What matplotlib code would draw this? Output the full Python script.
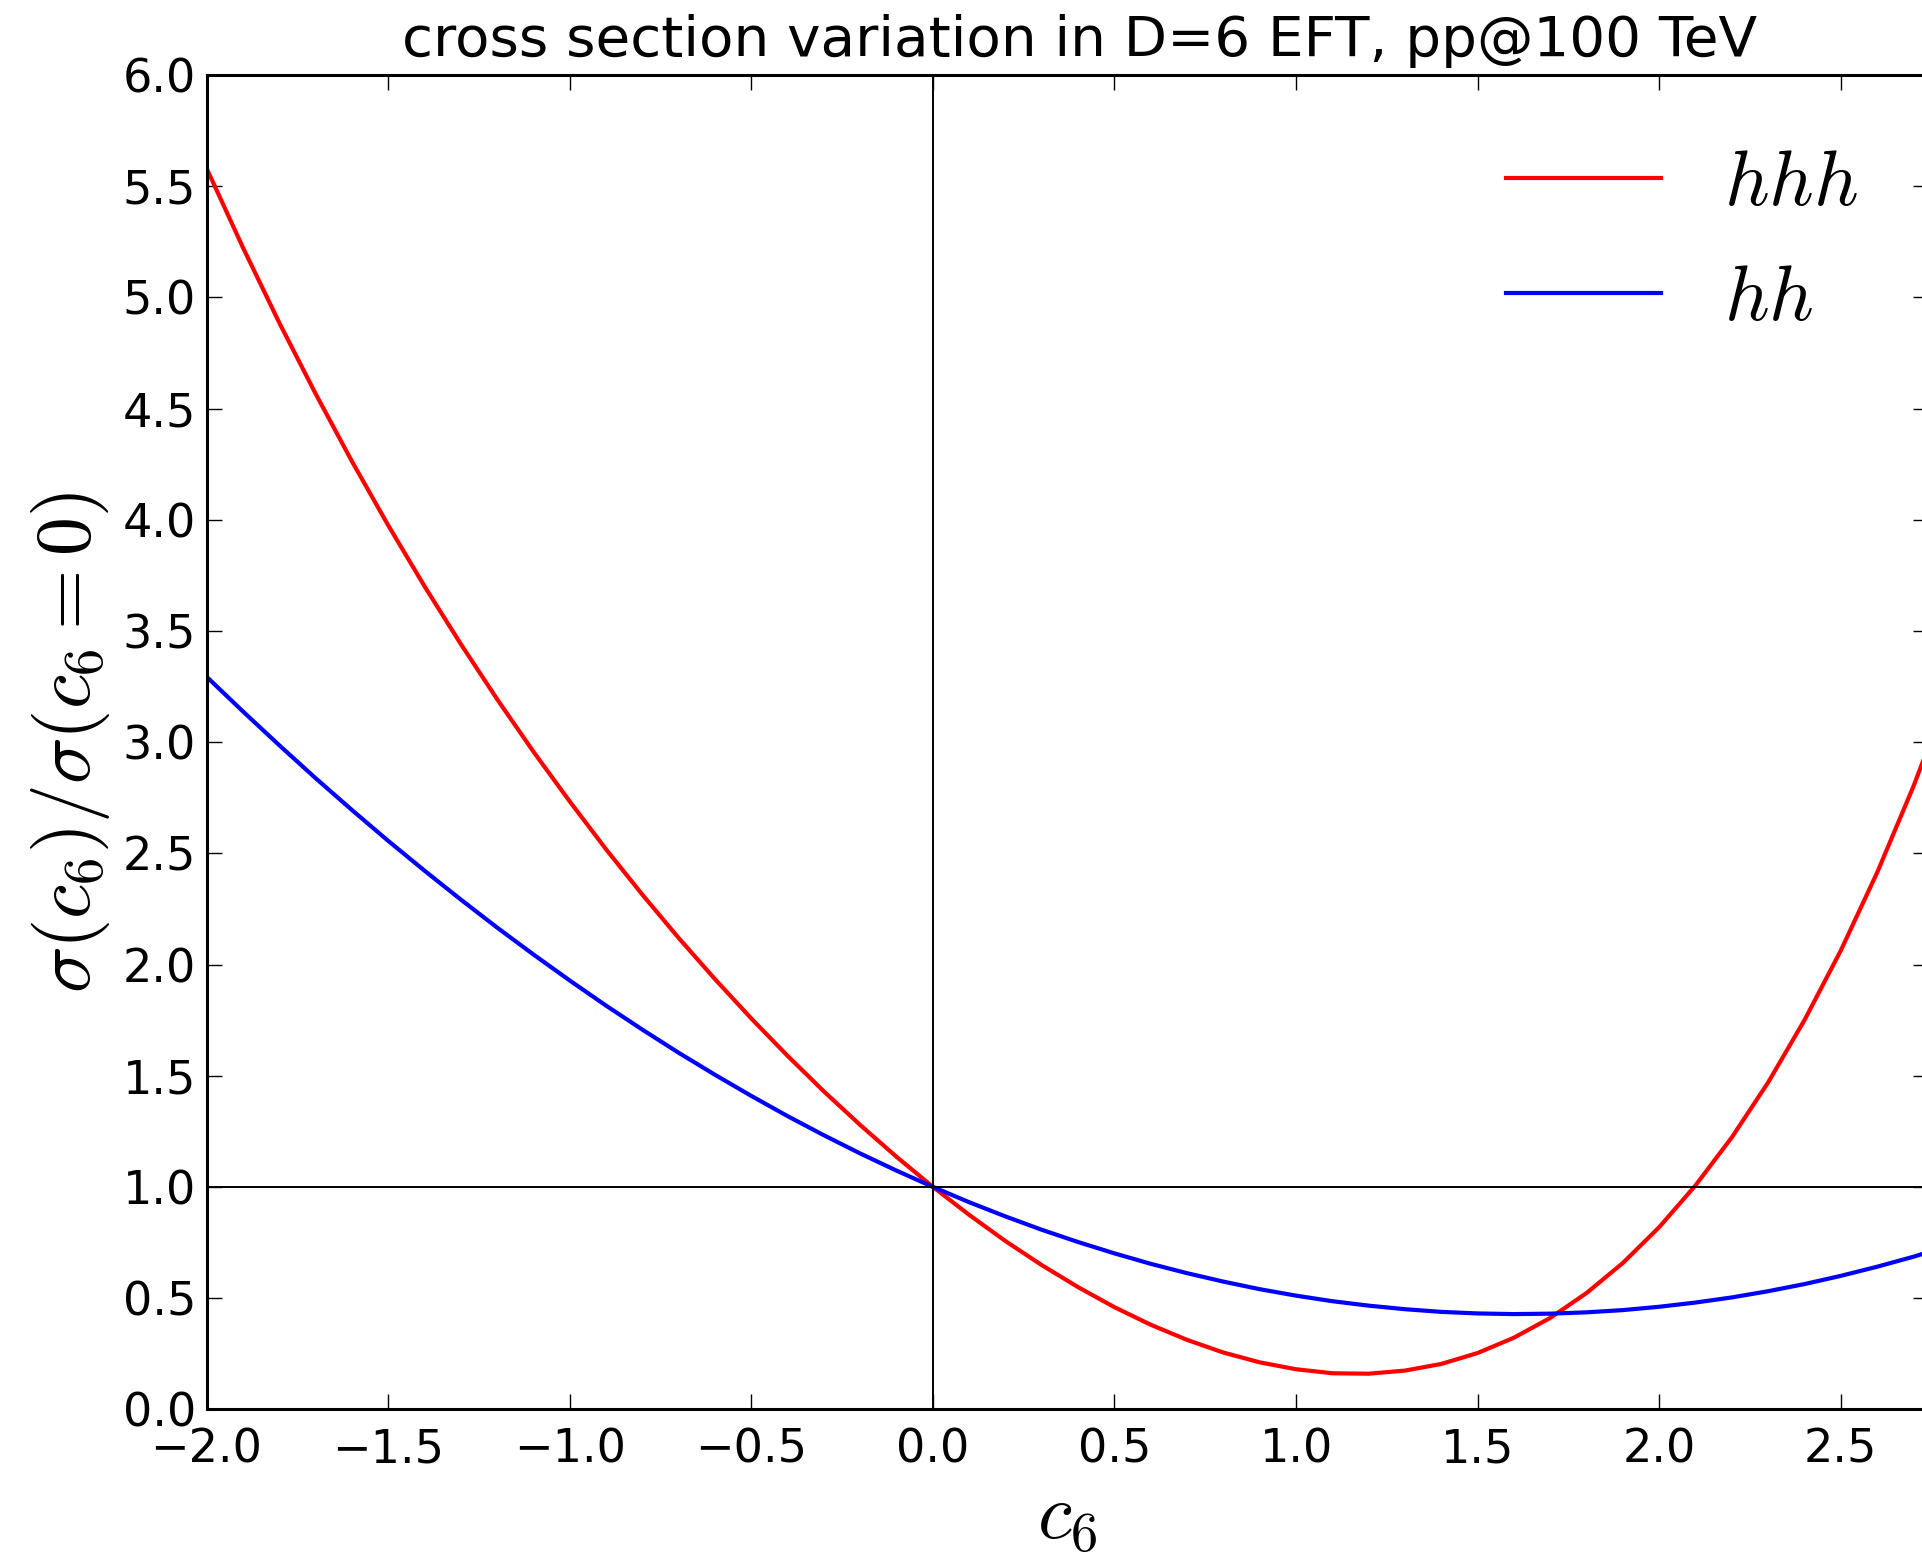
import matplotlib
matplotlib.use("Agg")
import matplotlib.pyplot as plt

# values
c6 = [-2.0, -1.9, -1.8, -1.7, -1.6, -1.5, -1.4, -1.3, -1.2, -1.1,
      -1.0, -0.9, -0.8, -0.7, -0.6, -0.5, -0.4, -0.3, -0.2, -0.1,
      0.0, 0.1, 0.2, 0.3, 0.4, 0.5, 0.6, 0.7, 0.8, 0.9,
      1.0, 1.1, 1.2, 1.3, 1.4, 1.5, 1.6, 1.7, 1.8, 1.9,
      2.0, 2.1, 2.2, 2.3, 2.4, 2.5, 2.6, 2.7, 2.8]

hhh = [5.580, 5.224, 4.886, 4.567, 4.263, 3.975, 3.701, 3.441, 3.193, 2.957,
       2.733, 2.518, 2.314, 2.119, 1.934, 1.757, 1.589, 1.429, 1.278, 1.135,
       1.000, 0.874, 0.756, 0.648, 0.549, 0.459, 0.380, 0.312, 0.255, 0.211,
       0.180, 0.162, 0.160, 0.174, 0.204, 0.253, 0.322, 0.411, 0.523, 0.658,
       0.819, 1.007, 1.223, 1.470, 1.750, 2.063, 2.413, 2.801, 3.230]

hh = [3.294, 3.138, 2.986, 2.838, 2.695, 2.556, 2.422, 2.292, 2.166, 2.045,
      1.928, 1.815, 1.707, 1.603, 1.504, 1.409, 1.318, 1.232, 1.150, 1.073,
      1.000, 0.931, 0.867, 0.807, 0.752, 0.701, 0.654, 0.612, 0.574, 0.540,
      0.511, 0.486, 0.466, 0.450, 0.438, 0.431, 0.428, 0.430, 0.436, 0.446,
      0.461, 0.480, 0.503, 0.531, 0.563, 0.600, 0.641, 0.686, 0.736]

plt.rcParams['mathtext.fontset'] = 'cm'
plt.rcParams['font.family'] = 'DejaVu Sans'

fig = plt.figure(figsize=(9.61, 7.825), dpi=200)
ax = fig.add_axes([0.1075, 0.0995, 0.8956, 0.8526])

ax.plot(c6, hhh, color='red', lw=1.5, label=r'$hhh$')
ax.plot(c6, hh, color='blue', lw=1.5, label=r'$hh$')
ax.axhline(1.0, color='black', lw=0.7)
ax.axvline(0.0, color='black', lw=0.7)

ax.set_xlim(-2.0, 2.74)
ax.set_ylim(0.0, 6.0)
ax.set_xticks([-2.0, -1.5, -1.0, -0.5, 0.0, 0.5, 1.0, 1.5, 2.0, 2.5])
ax.set_yticks([0.0, 0.5, 1.0, 1.5, 2.0, 2.5, 3.0, 3.5, 4.0, 4.5, 5.0, 5.5, 6.0])

ax.tick_params(direction='in', top=True, right=True, length=5.4, width=0.5,
               labelsize=16.6)
ax.tick_params(axis='x', pad=6.5)
ax.tick_params(axis='y', pad=3.8)
for sp in ax.spines.values():
    sp.set_linewidth(1.1)

ax.set_title('cross section variation in D=6 EFT, pp@100 TeV', fontsize=20.3,
             pad=7, x=0.507)
ax.set_xlabel(r'$c_6$', fontsize=28, labelpad=2)
ax.set_ylabel(r'$\sigma(c_6)/\sigma(c_6=0)$', fontsize=28, labelpad=4)

ax.legend(loc='upper right', frameon=False, fontsize=28, handlelength=2.0)

fig.savefig('out.png', dpi=200)
